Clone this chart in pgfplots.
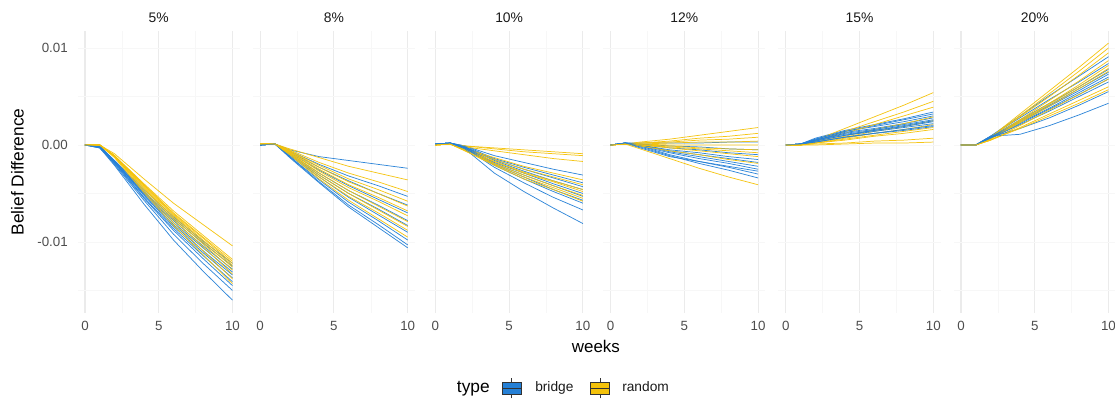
\documentclass[border=0pt]{standalone}
\usepackage{fontspec}
\setmainfont{Liberation Sans}
\usepackage{pgfplots}
\pgfplotsset{compat=1.18}
\definecolor{cBridge}{HTML}{2580D6}
\definecolor{cRandom}{HTML}{F4C20A}
\definecolor{tickc}{HTML}{4D4D4D}
\definecolor{stripc}{HTML}{1A1A1A}
\definecolor{gridc}{HTML}{EBEBEB}
\definecolor{gridm}{HTML}{F7F7F7}
% values below are Belief Difference in units of 0.001
\pgfplotsset{
  panel/.style={
    scale only axis, width=121.7pt, height=211.7pt,
    anchor=south west,
    xmin=-0.5, xmax=10.5, ymin=-17.3, ymax=11.8,
    axis line style={draw=none},
    major tick length=0pt, minor tick length=0pt,
    xtick={0,5,10}, xticklabels={0,5,10},
    ytick={-10,0,10},
    minor xtick={2.5,7.5}, minor ytick={-15,-5,5},
    xmajorgrids, ymajorgrids, xminorgrids, yminorgrids,
    major x grid style={gridc, line width=0.8pt},
    major y grid style={gridm, line width=0.6pt},
    minor x grid style={gridm, line width=0.4pt},
    minor y grid style={gridm, line width=0.3pt},
    xticklabel style={font=\fontsize{10}{12}\selectfont, text=tickc, anchor=center, yshift=-9.9pt, inner sep=0pt},
    yticklabel style={font=\fontsize{10}{12}\selectfont, text=tickc, anchor=east, xshift=-7.2pt, inner sep=0pt},
    title style={at={(0.5,1)}, anchor=center, yshift=3.4pt, font=\fontsize{10.4}{12}\selectfont, text=stripc},
  },
  br/.style={color=cBridge, line width=0.55pt, no markers, line join=round, opacity=0.95},
  rd/.style={color=cRandom, line width=0.55pt, no markers, line join=round, opacity=0.95},
}
\newcommand{\boxkey}[3]{%
  \draw[black!80, line width=0.6pt] (#1,#2-7.5pt) -- (#1,#2+7.5pt);
  \filldraw[fill=#3, draw=black!80, line width=0.6pt] (#1-7pt,#2-4.6pt) rectangle (#1+7pt,#2+4.6pt);
  \draw[black!80, line width=0.6pt] (#1-7pt,#2) -- (#1+7pt,#2);
}
\begin{document}
\begin{tikzpicture}
\useasboundingbox (0,0) rectangle (836.25pt,301.5pt);
% ---------------- 5% ----------------
\begin{axis}[panel, at={(58.2pt,66.9pt)}, title={5\%}, yticklabels={-0.01,0.00,0.01}]
\addplot[br] coordinates {(0,0)(1,-0.1)(2,-1.6)(4,-4.6)(6,-7.4)(8,-9.9)(10,-12.2)};
\addplot[rd] coordinates {(0,0)(1,0)(2,-0.9)(4,-3.5)(6,-6.0)(8,-8.2)(10,-10.4)};
\addplot[br] coordinates {(0,0)(1,-0.2)(2,-1.6)(4,-4.8)(6,-7.6)(8,-10.1)(10,-12.5)};
\addplot[rd] coordinates {(0,0)(1,0)(2,-1.1)(4,-4.0)(6,-6.8)(8,-9.3)(10,-11.8)};
\addplot[br] coordinates {(0,0)(1,-0.2)(2,-1.7)(4,-4.9)(6,-7.8)(8,-10.4)(10,-12.8)};
\addplot[rd] coordinates {(0,0)(1,0)(2,-1.1)(4,-4.1)(6,-7.0)(8,-9.5)(10,-12.0)};
\addplot[br] coordinates {(0,0)(1,-0.1)(2,-1.7)(4,-5.0)(6,-8.0)(8,-10.6)(10,-13.1)};
\addplot[rd] coordinates {(0,0)(1,0)(2,-1.1)(4,-4.1)(6,-7.1)(8,-9.6)(10,-12.2)};
\addplot[br] coordinates {(0,0)(1,-0.3)(2,-1.7)(4,-5.1)(6,-8.2)(8,-10.9)(10,-13.4)};
\addplot[rd] coordinates {(0,0)(1,0)(2,-1.1)(4,-4.2)(6,-7.2)(8,-9.8)(10,-12.4)};
\addplot[br] coordinates {(0,0)(1,-0.2)(2,-1.8)(4,-5.2)(6,-8.4)(8,-11.1)(10,-13.7)};
\addplot[rd] coordinates {(0,0)(1,0)(2,-1.1)(4,-4.3)(6,-7.3)(8,-10.0)(10,-12.6)};
\addplot[br] coordinates {(0,0)(1,-0.2)(2,-1.8)(4,-5.4)(6,-8.6)(8,-11.4)(10,-14.1)};
\addplot[rd] coordinates {(0,0)(1,0)(2,-1.2)(4,-4.4)(6,-7.5)(8,-10.2)(10,-12.9)};
\addplot[br] coordinates {(0,0)(1,-0.3)(2,-1.9)(4,-5.5)(6,-8.8)(8,-11.7)(10,-14.5)};
\addplot[rd] coordinates {(0,0)(1,0)(2,-1.2)(4,-4.5)(6,-7.7)(8,-10.5)(10,-13.3)};
\addplot[br] coordinates {(0,0)(1,-0.2)(2,-2.0)(4,-5.7)(6,-9.2)(8,-12.2)(10,-15.0)};
\addplot[rd] coordinates {(0,0)(1,0)(2,-1.2)(4,-4.7)(6,-8.0)(8,-10.9)(10,-13.8)};
\addplot[br] coordinates {(0,0)(1,-0.3)(2,-2.1)(4,-6.1)(6,-9.8)(8,-13.0)(10,-16.0)};
\addplot[rd] coordinates {(0,0)(1,0)(2,-1.3)(4,-4.9)(6,-8.3)(8,-11.3)(10,-14.3)};
\end{axis}
% ---------------- 8% ----------------
\begin{axis}[panel, at={(189.6pt,66.9pt)}, title={8\%}, yticklabels={}]
\addplot[br] coordinates {(0,0)(1,0.1)(2,-0.5)(4,-1.2)(6,-1.6)(8,-2.0)(10,-2.4)};
\addplot[rd] coordinates {(0,0.1)(1,0.1)(2,-0.4)(4,-1.3)(6,-2.2)(8,-2.9)(10,-3.6)};
\addplot[br] coordinates {(0,0)(1,0.1)(2,-0.6)(4,-2.0)(6,-3.2)(8,-4.2)(10,-5.3)};
\addplot[rd] coordinates {(0,0.1)(1,0.1)(2,-0.5)(4,-1.8)(6,-2.9)(8,-3.8)(10,-4.8)};
\addplot[br] coordinates {(0,0)(1,0.1)(2,-0.7)(4,-2.3)(6,-3.7)(8,-5.0)(10,-6.2)};
\addplot[rd] coordinates {(0,0.1)(1,0.1)(2,-0.6)(4,-2.1)(6,-3.5)(8,-4.6)(10,-5.8)};
\addplot[br] coordinates {(0,0)(1,0.1)(2,-0.8)(4,-2.6)(6,-4.2)(8,-5.6)(10,-7.0)};
\addplot[rd] coordinates {(0,0.1)(1,0.1)(2,-0.6)(4,-2.3)(6,-3.8)(8,-5.0)(10,-6.3)};
\addplot[br] coordinates {(0,0)(1,0.1)(2,-0.9)(4,-2.9)(6,-4.7)(8,-6.2)(10,-7.8)};
\addplot[rd] coordinates {(0,0.1)(1,0.1)(2,-0.7)(4,-2.5)(6,-4.1)(8,-5.4)(10,-6.8)};
\addplot[br] coordinates {(0,0)(1,0.1)(2,-1.0)(4,-3.1)(6,-5.0)(8,-6.6)(10,-8.3)};
\addplot[rd] coordinates {(0,0.1)(1,0.1)(2,-0.7)(4,-2.7)(6,-4.4)(8,-5.8)(10,-7.3)};
\addplot[br] coordinates {(0,0)(1,0.1)(2,-1.1)(4,-3.3)(6,-5.4)(8,-7.2)(10,-9.0)};
\addplot[rd] coordinates {(0,0.1)(1,0.1)(2,-0.8)(4,-2.9)(6,-4.7)(8,-6.3)(10,-7.9)};
\addplot[br] coordinates {(0,0)(1,0.1)(2,-1.2)(4,-3.6)(6,-5.9)(8,-7.8)(10,-9.8)};
\addplot[rd] coordinates {(0,0.1)(1,0.1)(2,-0.8)(4,-3.1)(6,-5.0)(8,-6.7)(10,-8.4)};
\addplot[br] coordinates {(0,0)(1,0.1)(2,-1.2)(4,-3.8)(6,-6.2)(8,-8.2)(10,-10.3)};
\addplot[rd] coordinates {(0,0.1)(1,0.1)(2,-0.9)(4,-3.3)(6,-5.3)(8,-7.0)(10,-8.8)};
\addplot[br] coordinates {(0,0)(1,0.1)(2,-1.3)(4,-3.9)(6,-6.4)(8,-8.5)(10,-10.6)};
\addplot[rd] coordinates {(0,0.1)(1,0.1)(2,-1.0)(4,-3.5)(6,-5.7)(8,-7.6)(10,-9.5)};
\end{axis}
% ---------------- 10% ----------------
\begin{axis}[panel, at={(321.0pt,66.9pt)}, title={10\%}, yticklabels={}]
\addplot[br] coordinates {(0,0.1)(1,0.2)(2,-0.1)(4,-1.1)(6,-1.8)(8,-2.5)(10,-3.1)};
\addplot[rd] coordinates {(0,0)(1,0.1)(2,-0.1)(4,-0.3)(6,-0.5)(8,-0.7)(10,-0.9)};
\addplot[br] coordinates {(0,0.1)(1,0.2)(2,-0.1)(4,-1.4)(6,-2.3)(8,-3.1)(10,-3.9)};
\addplot[rd] coordinates {(0,0)(1,0.1)(2,-0.1)(4,-0.4)(6,-0.7)(8,-0.9)(10,-1.1)};
\addplot[br] coordinates {(0,0.1)(1,0.2)(2,-0.2)(4,-1.5)(6,-2.5)(8,-3.4)(10,-4.3)};
\addplot[rd] coordinates {(0,0)(1,0.1)(2,-0.2)(4,-0.6)(6,-1.0)(8,-1.4)(10,-1.7)};
\addplot[br] coordinates {(0,0.1)(1,0.2)(2,-0.2)(4,-1.6)(6,-2.7)(8,-3.7)(10,-4.6)};
\addplot[rd] coordinates {(0,0)(1,0.1)(2,-0.4)(4,-1.3)(6,-2.2)(8,-2.9)(10,-3.6)};
\addplot[br] coordinates {(0,0.1)(1,0.2)(2,-0.2)(4,-1.8)(6,-2.9)(8,-4.0)(10,-5.0)};
\addplot[rd] coordinates {(0,0)(1,0.1)(2,-0.4)(4,-1.5)(6,-2.5)(8,-3.3)(10,-4.1)};
\addplot[br] coordinates {(0,0.1)(1,0.2)(2,-0.2)(4,-1.9)(6,-3.1)(8,-4.2)(10,-5.3)};
\addplot[rd] coordinates {(0,0)(1,0.1)(2,-0.5)(4,-1.7)(6,-2.8)(8,-3.7)(10,-4.6)};
\addplot[br] coordinates {(0,0.1)(1,0.2)(2,-0.3)(4,-2.0)(6,-3.3)(8,-4.6)(10,-5.7)};
\addplot[rd] coordinates {(0,0)(1,0.1)(2,-0.5)(4,-1.7)(6,-2.9)(8,-3.8)(10,-4.8)};
\addplot[br] coordinates {(0,0.1)(1,0.2)(2,-0.3)(4,-2.1)(6,-3.5)(8,-4.8)(10,-6.0)};
\addplot[rd] coordinates {(0,0)(1,0.1)(2,-0.5)(4,-1.9)(6,-3.1)(8,-4.2)(10,-5.2)};
\addplot[br] coordinates {(0,0.1)(1,0.2)(2,-0.3)(4,-2.3)(6,-3.9)(8,-5.4)(10,-6.7)};
\addplot[rd] coordinates {(0,0)(1,0.1)(2,-0.6)(4,-2.0)(6,-3.3)(8,-4.4)(10,-5.5)};
\addplot[br] coordinates {(0,0.1)(1,0.2)(2,-0.4)(4,-2.9)(6,-4.8)(8,-6.5)(10,-8.1)};
\addplot[rd] coordinates {(0,0)(1,0.1)(2,-0.6)(4,-2.1)(6,-3.5)(8,-4.6)(10,-5.8)};
\end{axis}
% ---------------- 12% ----------------
\begin{axis}[panel, at={(452.4pt,66.9pt)}, title={12\%}, yticklabels={}]
\addplot[br] coordinates {(0,0)(1,0.2)(2,0.2)(4,0.2)(6,0.2)(8,0.3)(10,0.3)};
\addplot[rd] coordinates {(0,0)(1,0.1)(2,0.3)(4,0.6)(6,1.0)(8,1.4)(10,1.8)};
\addplot[br] coordinates {(0,0)(1,0.2)(2,0.1)(4,-0.1)(6,-0.2)(8,-0.4)(10,-0.5)};
\addplot[rd] coordinates {(0,0)(1,0.1)(2,0.2)(4,0.4)(6,0.7)(8,0.9)(10,1.2)};
\addplot[br] coordinates {(0,0)(1,0.2)(2,0.1)(4,-0.3)(6,-0.5)(8,-0.8)(10,-1.0)};
\addplot[rd] coordinates {(0,0)(1,0.1)(2,0.2)(4,0.3)(6,0.5)(8,0.6)(10,0.8)};
\addplot[br] coordinates {(0,0)(1,0.2)(2,0.0)(4,-0.5)(6,-0.8)(8,-1.2)(10,-1.5)};
\addplot[rd] coordinates {(0,0)(1,0.1)(2,0.1)(4,0.2)(6,0.3)(8,0.3)(10,0.4)};
\addplot[br] coordinates {(0,0)(1,0.2)(2,0.0)(4,-0.6)(6,-1.0)(8,-1.4)(10,-1.8)};
\addplot[rd] coordinates {(0,0)(1,0.1)(2,0.1)(4,0.0)(6,0.0)(8,0.0)(10,0.0)};
\addplot[br] coordinates {(0,0)(1,0.2)(2,0.0)(4,-0.7)(6,-1.2)(8,-1.7)(10,-2.2)};
\addplot[rd] coordinates {(0,0)(1,0.1)(2,0.0)(4,-0.1)(6,-0.3)(8,-0.4)(10,-0.5)};
\addplot[br] coordinates {(0,0)(1,0.2)(2,-0.1)(4,-0.8)(6,-1.4)(8,-1.9)(10,-2.5)};
\addplot[rd] coordinates {(0,0)(1,0.1)(2,0.0)(4,-0.2)(6,-0.4)(8,-0.6)(10,-0.8)};
\addplot[br] coordinates {(0,0)(1,0.2)(2,-0.3)(4,-1.2)(6,-1.7)(8,-2.2)(10,-2.7)};
\addplot[rd] coordinates {(0,0)(1,0.1)(2,0.0)(4,-0.3)(6,-0.6)(8,-0.9)(10,-1.2)};
\addplot[br] coordinates {(0,0)(1,0.2)(2,-0.1)(4,-1.0)(6,-1.7)(8,-2.3)(10,-3.0)};
\addplot[rd] coordinates {(0,0)(1,0.1)(2,-0.1)(4,-0.6)(6,-1.0)(8,-1.5)(10,-1.9)};
\addplot[br] coordinates {(0,0)(1,0.2)(2,-0.2)(4,-1.1)(6,-1.9)(8,-2.6)(10,-3.4)};
\addplot[rd] coordinates {(0,0)(1,0.1)(2,-0.4)(4,-1.4)(6,-2.4)(8,-3.3)(10,-4.1)};
\end{axis}
% ---------------- 15% ----------------
\begin{axis}[panel, at={(583.8pt,66.9pt)}, title={15\%}, yticklabels={}]
\addplot[br] coordinates {(0,0)(1,0.1)(2,0.7)(4,1.5)(6,2.1)(8,2.7)(10,3.4)};
\addplot[rd] coordinates {(0,0)(1,0)(2,0.5)(4,1.7)(6,2.9)(8,4.1)(10,5.4)};
\addplot[br] coordinates {(0,0)(1,0.1)(2,0.6)(4,1.4)(6,2.0)(8,2.6)(10,3.2)};
\addplot[rd] coordinates {(0,0)(1,0)(2,0.4)(4,1.4)(6,2.4)(8,3.4)(10,4.5)};
\addplot[br] coordinates {(0,0)(1,0.1)(2,0.6)(4,1.4)(6,1.9)(8,2.4)(10,3.0)};
\addplot[rd] coordinates {(0,0)(1,0)(2,0.4)(4,1.2)(6,2.1)(8,3.0)(10,3.9)};
\addplot[br] coordinates {(0,0)(1,0.1)(2,0.5)(4,1.3)(6,1.7)(8,2.2)(10,2.8)};
\addplot[rd] coordinates {(0,0)(1,0)(2,0.3)(4,0.9)(6,1.6)(8,2.2)(10,2.9)};
\addplot[br] coordinates {(0,0)(1,0.1)(2,0.5)(4,1.2)(6,1.6)(8,2.1)(10,2.6)};
\addplot[rd] coordinates {(0,0)(1,0)(2,0.3)(4,0.8)(6,1.4)(8,1.9)(10,2.5)};
\addplot[br] coordinates {(0,0)(1,0.1)(2,0.5)(4,1.1)(6,1.5)(8,1.9)(10,2.4)};
\addplot[rd] coordinates {(0,0)(1,0)(2,0.2)(4,0.7)(6,1.2)(8,1.6)(10,2.1)};
\addplot[br] coordinates {(0,0)(1,0.1)(2,0.4)(4,1.0)(6,1.4)(8,1.8)(10,2.2)};
\addplot[rd] coordinates {(0,0)(1,0)(2,0.2)(4,0.6)(6,1.0)(8,1.4)(10,1.8)};
\addplot[br] coordinates {(0,0)(1,0.1)(2,0.3)(4,0.8)(6,1.2)(8,1.6)(10,2.0)};
\addplot[rd] coordinates {(0,0)(1,0)(2,0.2)(4,0.5)(6,0.9)(8,1.2)(10,1.6)};
\addplot[br] coordinates {(0,0)(1,0.1)(2,0.3)(4,0.8)(6,1.2)(8,1.5)(10,1.9)};
\addplot[rd] coordinates {(0,0)(1,0)(2,0.1)(4,0.2)(6,0.4)(8,0.5)(10,0.7)};
\addplot[br] coordinates {(0,0)(1,0.1)(2,0.4)(4,1.0)(6,1.5)(8,2.0)(10,2.5)};
\addplot[rd] coordinates {(0,0)(1,0)(2,0.0)(4,0.1)(6,0.2)(8,0.2)(10,0.3)};
\end{axis}
% ---------------- 20% ----------------
\begin{axis}[panel, at={(715.2pt,66.9pt)}, title={20\%}, yticklabels={}]
\addplot[br] coordinates {(0,0)(1,0)(2,0.9)(4,3.0)(6,5.1)(8,7.1)(10,9.1)};
\addplot[rd] coordinates {(0,0)(1,0)(2,0.8)(4,3.2)(6,5.6)(8,8.0)(10,10.5)};
\addplot[br] coordinates {(0,0)(1,0)(2,0.9)(4,2.8)(6,4.7)(8,6.5)(10,8.4)};
\addplot[rd] coordinates {(0,0)(1,0)(2,0.8)(4,3.0)(6,5.3)(8,7.6)(10,10.0)};
\addplot[br] coordinates {(0,0)(1,0)(2,0.8)(4,2.6)(6,4.3)(8,6.0)(10,7.8)};
\addplot[rd] coordinates {(0,0)(1,0)(2,0.8)(4,2.9)(6,5.0)(8,7.2)(10,9.5)};
\addplot[br] coordinates {(0,0)(1,0)(2,0.8)(4,2.5)(6,4.1)(8,5.8)(10,7.5)};
\addplot[rd] coordinates {(0,0)(1,0)(2,0.7)(4,2.6)(6,4.6)(8,6.6)(10,8.7)};
\addplot[br] coordinates {(0,0)(1,0)(2,0.8)(4,2.4)(6,4.0)(8,5.6)(10,7.3)};
\addplot[rd] coordinates {(0,0)(1,0)(2,0.7)(4,2.5)(6,4.3)(8,6.2)(10,8.2)};
\addplot[br] coordinates {(0,0)(1,0)(2,0.8)(4,2.3)(6,3.8)(8,5.4)(10,7.0)};
\addplot[rd] coordinates {(0,0)(1,0)(2,0.6)(4,2.4)(6,4.2)(8,6.0)(10,7.9)};
\addplot[br] coordinates {(0,0)(1,0)(2,0.7)(4,2.2)(6,3.7)(8,5.2)(10,6.8)};
\addplot[rd] coordinates {(0,0)(1,0)(2,0.6)(4,2.3)(6,4.0)(8,5.8)(10,7.6)};
\addplot[br] coordinates {(0,0)(1,0)(2,0.7)(4,2.1)(6,3.5)(8,5.0)(10,6.5)};
\addplot[rd] coordinates {(0,0)(1,0)(2,0.5)(4,2.0)(6,3.6)(8,5.2)(10,6.8)};
\addplot[br] coordinates {(0,0)(1,0)(2,0.8)(4,1.7)(6,2.8)(8,4.1)(10,5.5)};
\addplot[rd] coordinates {(0,0)(1,0)(2,0.5)(4,1.8)(6,3.2)(8,4.6)(10,6.0)};
\addplot[br] coordinates {(0,0)(1,0)(2,0.9)(4,1.1)(6,2.0)(8,3.1)(10,4.3)};
\addplot[rd] coordinates {(0,0)(1,0)(2,0.5)(4,1.7)(6,3.0)(8,4.3)(10,5.7)};
\end{axis}
% ---------------- labels and legend ----------------
\node[rotate=90, anchor=center, font=\fontsize{13}{15}\selectfont] at (13.1pt,172.5pt) {Belief Difference};
\node[anchor=center, font=\fontsize{12.7}{15}\selectfont] at (446.9pt,41.5pt) {weeks};
\node[anchor=base east, inner sep=0pt, font=\fontsize{13}{15}\selectfont] at (367.5pt,7.1pt) {type};
\boxkey{383.8pt}{10.3pt}{cBridge}
\node[anchor=base west, inner sep=0pt, font=\fontsize{10.3}{12}\selectfont, text=stripc] at (401.25pt,7.5pt) {bridge};
\boxkey{450pt}{10.3pt}{cRandom}
\node[anchor=base west, inner sep=0pt, font=\fontsize{10.3}{12}\selectfont, text=stripc] at (466.5pt,7.5pt) {random};
\end{tikzpicture}
\end{document}
